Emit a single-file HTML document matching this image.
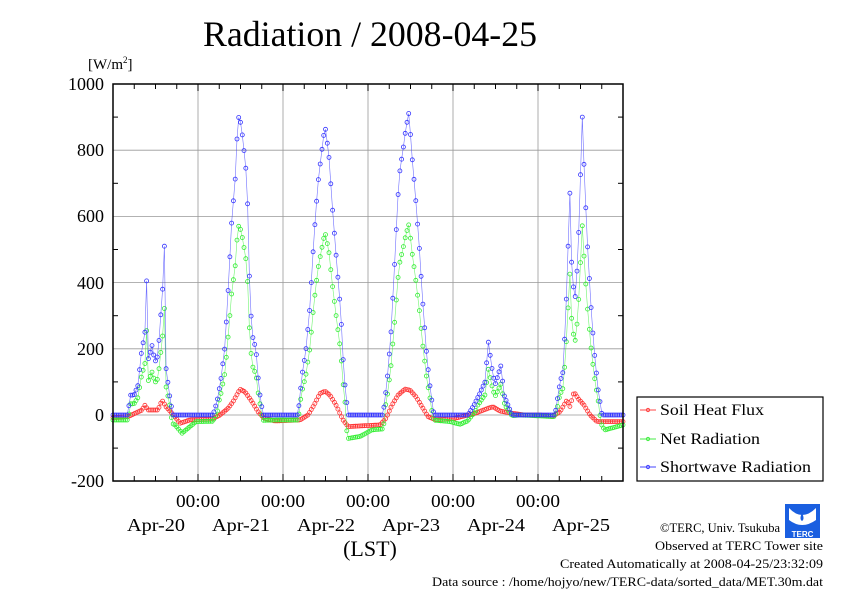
<!DOCTYPE html>
<html><head><meta charset="utf-8"><style>
html,body{margin:0;padding:0;background:#fff;}
svg{display:block;font-family:"Liberation Serif",serif;}
</style></head><body>
<svg id="s" width="842" height="595" viewBox="0 0 842 595" xmlns="http://www.w3.org/2000/svg">
<text x="370" y="46" font-size="36" text-anchor="middle" textLength="334" lengthAdjust="spacingAndGlyphs">Radiation / 2008-04-25</text>
<text x="88" y="69" font-size="15">[W/m<tspan font-size="9" dy="-6">2</tspan><tspan dy="6">]</tspan></text>
<g id="grid" stroke="#999" stroke-width="0.8"></g>
<g id="data"></g>
<rect x="113" y="84" width="510" height="397" fill="none" stroke="#000" stroke-width="1.5"/>
<g id="ticks" stroke="#000" stroke-width="1"></g>
<g font-size="18" text-anchor="end">
<text x="104" y="90">1000</text><text x="104" y="156">800</text><text x="104" y="222">600</text>
<text x="104" y="289">400</text><text x="104" y="355">200</text><text x="104" y="421">0</text>
<text x="104" y="487">-200</text></g>
<g font-size="18" text-anchor="middle" id="xl"></g>
<text x="370" y="556" font-size="22" text-anchor="middle">(LST)</text>
<rect x="637" y="397" width="186" height="84" fill="#fff" stroke="#000" stroke-width="1.2"/>
<g font-size="16">
<line x1="640" y1="410" x2="656" y2="410" stroke="#f44"/><circle cx="648" cy="410" r="1.6" fill="none" stroke="#f44"/>
<text x="660" y="415" textLength="104" lengthAdjust="spacingAndGlyphs">Soil Heat Flux</text>
<line x1="640" y1="439" x2="656" y2="439" stroke="#4e4"/><circle cx="648" cy="439" r="1.6" fill="none" stroke="#4e4"/>
<text x="660" y="444" textLength="100" lengthAdjust="spacingAndGlyphs">Net Radiation</text>
<line x1="640" y1="467" x2="656" y2="467" stroke="#44f"/><circle cx="648" cy="467" r="1.6" fill="none" stroke="#44f"/>
<text x="660" y="472" textLength="151" lengthAdjust="spacingAndGlyphs">Shortwave Radiation</text></g>
<g>
<rect x="785" y="504" width="35" height="34" fill="#1a5fe0"/>
<path d="M789 508 Q802 522 816 508 L816 520 Q802 530 789 520 Z" fill="#fff"/>
<path d="M802 513 Q799 519 802 521 Q805 519 802 513 Z" fill="#1a5fe0"/>
<text x="802.5" y="537" font-size="8" fill="#fff" text-anchor="middle" font-family="Liberation Sans,sans-serif" font-weight="bold">TERC</text>
</g>
<g font-size="12.5">
<text x="660" y="532" textLength="120" lengthAdjust="spacingAndGlyphs">©TERC, Univ. Tsukuba</text>
<text x="655" y="550" textLength="168" lengthAdjust="spacingAndGlyphs">Observed at TERC Tower site</text>
<text x="560" y="568" textLength="263" lengthAdjust="spacingAndGlyphs">Created Automatically at 2008-04-25/23:32:09</text>
<text x="432" y="586" textLength="391" lengthAdjust="spacingAndGlyphs">Data source : /home/hojyo/new/TERC-data/sorted_data/MET.30m.dat</text></g>
</svg>
<script>
var NS="http://www.w3.org/2000/svg";
function el(p,t,a){var e=document.createElementNS(NS,t);for(var k in a)e.setAttribute(k,a[k]);p.appendChild(e);return e;}
var g=document.getElementById("grid"),tk=document.getElementById("ticks"),xl=document.getElementById("xl");
function Y(v){return 415-v*0.331;}
for(var v=-200;v<=1000;v+=200){el(g,"line",{x1:113,x2:623,y1:Y(v),y2:Y(v)});}
for(var v=-100;v<=900;v+=200){el(tk,"line",{x1:113,x2:118,y1:Y(v),y2:Y(v)});el(tk,"line",{x1:623,x2:618,y1:Y(v),y2:Y(v)});}
for(var d=1;d<6;d++){var x=113+d*85;el(g,"line",{x1:x,x2:x,y1:84,y2:481});
 var t=el(xl,"text",{x:x,y:507,textLength:44,lengthAdjust:"spacingAndGlyphs"});t.textContent="00:00";}
for(var i=1;i<24;i++){var x=113+i*85/4;var L=(i%4==0)?7:5;el(tk,"line",{x1:x,x2:x,y1:481,y2:481-L});el(tk,"line",{x1:x,x2:x,y1:84,y2:84+L});}
var days=["Apr-20","Apr-21","Apr-22","Apr-23","Apr-24","Apr-25"];
for(var d=0;d<6;d++){var t=el(xl,"text",{x:156+d*85,y:531,textLength:58,lengthAdjust:"spacingAndGlyphs"});t.textContent=days[d];}
function interp(k,x){if(x<=k[0][0])return k[0][1];for(var i=1;i<k.length;i++){if(x<=k[i][0]){var a=k[i-1],b=k[i];return a[1]+(b[1]-a[1])*(x-a[0])/(b[0]-a[0]);}}return k[k.length-1][1];}
var step=85/48;function S(x){return 113+Math.round((x-113)/step)*step;}
var SW=[[113,0],[128,0],[130,60],[134,60],[138,90],[141,180],[S(146.5)-step,250],[S(146.5),405],[S(146.5)+step,170],[152,210],[155,160],[158,180],[S(163),380],[S(164.8),510],[S(164.8)+step,140],[170,50],[173,0],
[213,0],[217,40],[221,110],[225,210],[228,370],[232,600],[235,700],[238,905],[241,880],[244,800],[247,710],[250,340],[253,230],[256,200],[259,80],[263,0],
[298,0],[302,120],[306,200],[310,330],[314,540],[318,700],[321,780],[325,875],[329,780],[333,600],[337,450],[341,300],[344,120],[348,0],
[383,0],[387,100],[391,250],[395,480],[399,720],[403,800],[406,870],[409,915],[412,780],[415,680],[419,520],[423,330],[427,170],[431,60],[434,0],
[468,0],[474,30],[479,60],[485,100],[S(489),220],[492,140],[495,90],[498,120],[501,150],[504,60],[508,30],[512,0],
[555,0],[560,100],[563,130],[566,320],[S(569),670],[572,420],[575,350],[578,480],[S(582),900],[585,680],[588,480],[591,330],[594,200],[598,80],[602,0],[623,0]];
var BASE=[[113,-15],[165,-15],[175,-30],[182,-55],[188,-40],[196,-20],[280,-15],[300,-15],[340,-30],[346,-72],[360,-65],[372,-45],[390,-40],[432,-15],[450,-20],[460,-28],[470,-15],[485,-10],[520,0],[555,-5],[598,-20],[605,-45],[623,-30]];
var SO=[[113,-8],[128,-5],[135,5],[142,15],[145,30],[148,15],[158,15],[162,45],[166,25],[172,5],[180,-25],[190,-15],[212,-12],[220,0],[228,20],[233,40],[240,78],[245,70],[252,40],[258,10],[264,-10],[275,-18],[300,-15],[308,0],[314,30],[320,65],[325,72],[330,60],[336,30],[343,-15],[348,-35],[380,-30],[386,-10],[392,30],[398,60],[405,78],[410,75],[416,55],[422,25],[428,-5],[436,-15],[455,-10],[475,5],[488,20],[493,25],[500,12],[512,5],[525,0],[540,0],[552,-5],[560,10],[565,35],[567,45],[570,25],[574,70],[578,50],[584,30],[590,0],[597,-20],[623,-20]];
function series(f,col){var gg=el(document.getElementById("data"),"g",{});var pts=[];for(var i=0;i<=288;i++){var x=113+i*step;pts.push([x,Y(f(x))]);}
 el(gg,"polyline",{points:pts.map(function(p){return p[0].toFixed(1)+","+p[1].toFixed(1)}).join(" "),fill:"none",stroke:col,"stroke-width":0.6,"stroke-opacity":0.7});
 pts.forEach(function(p){el(gg,"circle",{cx:p[0].toFixed(1),cy:p[1].toFixed(1),r:2,fill:"none",stroke:col,"stroke-width":0.8});});}
series(function(x){return interp(SO,x);},"#f33");
series(function(x){var s=interp(SW,x);return s*0.64+interp(BASE,x)*(s>50?0.3:1);},"#3e3");
series(function(x){return interp(SW,x);},"#33f");
</script>
</body></html>
